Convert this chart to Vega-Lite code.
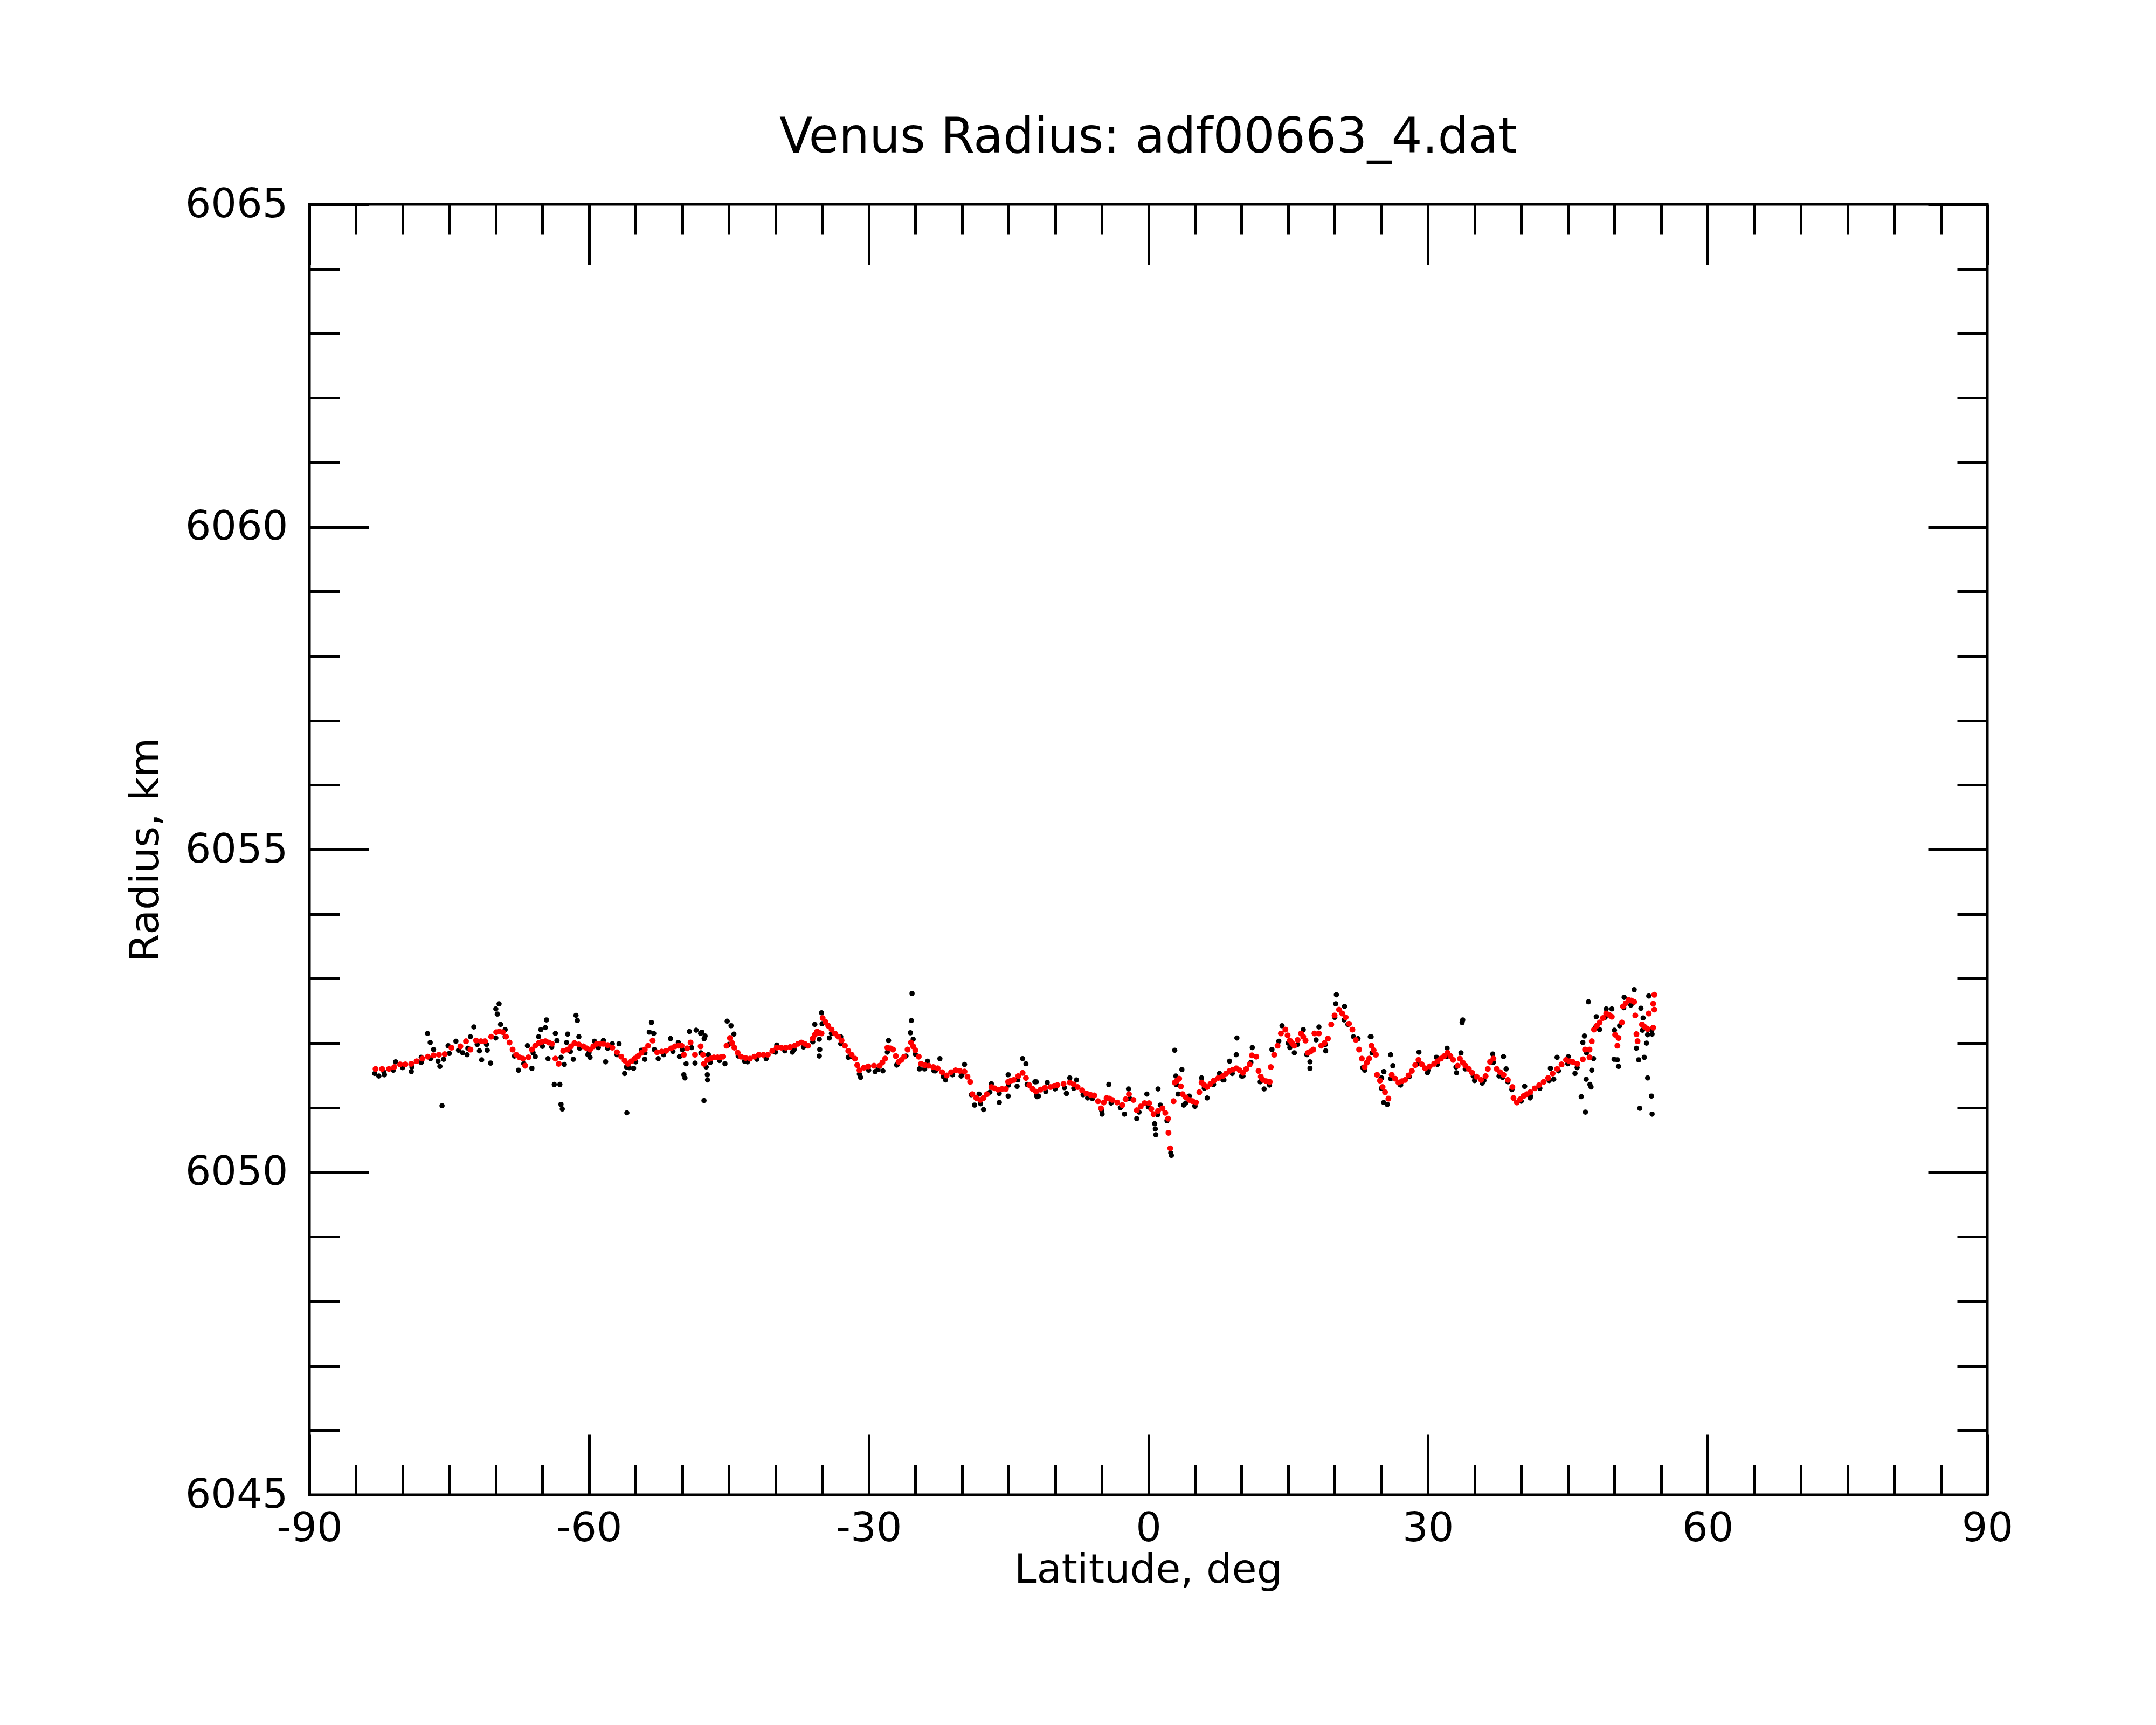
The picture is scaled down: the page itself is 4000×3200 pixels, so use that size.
{
  "$schema": "https://vega.github.io/schema/vega-lite/v6.json",
  "width": 3113,
  "height": 2394,
  "autosize": {"type": "none"},
  "padding": {"left": 574, "top": 379, "right": 313, "bottom": 427},
  "background": "white",
  "config": {
    "view": {"stroke": "black", "strokeWidth": 5},
    "font": "DejaVu Sans",
    "axis": {"domain": false, "grid": false, "tickColor": "black", "tickWidth": 5, "tickCap": "butt", "labelColor": "black", "titleColor": "black", "labelFont": "DejaVu Sans", "labelFontSize": 75, "labelLimit": 2000, "titleFont": "DejaVu Sans", "titleFontSize": 75, "titleFontWeight": "normal", "titleLimit": 3000, "labelFlush": false, "labelOverlap": false, "labelBound": false}
  },
  "title": {"text": "Venus Radius: adf00663_4.dat", "fontSize": 90, "font": "DejaVu Sans", "fontWeight": "normal", "color": "black", "anchor": "middle", "baseline": "alphabetic", "offset": -31},
  "datasets": {
    "smooth": [
      {"a":-82.9,"r":6051.60},{"a":-82.2,"r":6051.60},{"a":-81.47,"r":6051.60},{"a":-80.9,"r":6051.63},{"a":-80.27,"r":6051.67},{"a":-79.7,"r":6051.67},{"a":-79.07,"r":6051.68},{"a":-78.5,"r":6051.72},{"a":-77.88,"r":6051.76},{"a":-77.3,"r":6051.79},{"a":-76.68,"r":6051.81},{"a":-76.1,"r":6051.82},{"a":-75.48,"r":6051.83},{"a":-74.76,"r":6051.93},{"a":-73.8,"r":6051.95},{"a":-73.2,"r":6052.03},{"a":-72.72,"r":6051.90},{"a":-72.12,"r":6052.04},{"a":-71.6,"r":6052.03},{"a":-71.16,"r":6052.03},{"a":-70.5,"r":6052.10},{"a":-69.96,"r":6052.17},{"a":-69.6,"r":6052.18},{"a":-69.25,"r":6052.17},{"a":-68.9,"r":6052.10},{"a":-68.53,"r":6052.01},{"a":-68.2,"r":6051.90},{"a":-67.81,"r":6051.82},{"a":-67.45,"r":6051.78},{"a":-67.09,"r":6051.76},{"a":-66.85,"r":6051.65},{"a":-66.5,"r":6051.78},{"a":-66.13,"r":6051.90},{"a":-65.77,"r":6051.96},{"a":-65.41,"r":6052.00},{"a":-65.05,"r":6052.02},{"a":-64.69,"r":6052.03},{"a":-64.33,"r":6052.01},{"a":-63.97,"r":6051.99},{"a":-63.61,"r":6051.76},{"a":-63.25,"r":6051.68},{"a":-62.77,"r":6051.88},{"a":-62.29,"r":6051.90},{"a":-61.93,"r":6051.95},{"a":-61.57,"r":6052.00},{"a":-61.1,"r":6051.98},{"a":-60.61,"r":6051.95},{"a":-60.25,"r":6051.92},{"a":-59.89,"r":6051.90},{"a":-59.54,"r":6051.95},{"a":-59.18,"r":6051.99},{"a":-58.82,"r":6051.99},{"a":-58.46,"r":6051.99},{"a":-58.0,"r":6051.97},{"a":-57.5,"r":6051.93},{"a":-57.0,"r":6051.86},{"a":-56.54,"r":6051.79},{"a":-56.18,"r":6051.73},{"a":-55.82,"r":6051.68},{"a":-55.46,"r":6051.72},{"a":-55.1,"r":6051.76},{"a":-54.74,"r":6051.80},{"a":-54.38,"r":6051.85},{"a":-54.02,"r":6051.90},{"a":-53.66,"r":6051.96},{"a":-53.18,"r":6052.04},{"a":-52.7,"r":6051.86},{"a":-52.2,"r":6051.87},{"a":-51.74,"r":6051.88},{"a":-51.2,"r":6051.92},{"a":-50.78,"r":6051.95},{"a":-50.42,"r":6051.96},{"a":-50.07,"r":6051.96},{"a":-49.83,"r":6051.82},{"a":-49.47,"r":6051.92},{"a":-49.11,"r":6052.01},{"a":-48.63,"r":6051.82},{"a":-48.03,"r":6051.95},{"a":-47.77,"r":6051.82},{"a":-47.67,"r":6051.68},{"a":-47.3,"r":6051.74},{"a":-46.95,"r":6051.76},{"a":-46.6,"r":6051.78},{"a":-46.2,"r":6051.78},{"a":-45.9,"r":6051.78},{"a":-45.61,"r":6051.79},{"a":-45.25,"r":6051.96},{"a":-44.89,"r":6052.08},{"a":-44.65,"r":6052.00},{"a":-44.41,"r":6051.93},{"a":-44.05,"r":6051.85},{"a":-43.69,"r":6051.79},{"a":-43.2,"r":6051.77},{"a":-42.74,"r":6051.76},{"a":-42.26,"r":6051.79},{"a":-41.78,"r":6051.82},{"a":-41.3,"r":6051.82},{"a":-40.82,"r":6051.82},{"a":-40.34,"r":6051.88},{"a":-39.86,"r":6051.93},{"a":-39.38,"r":6051.93},{"a":-38.9,"r":6051.93},{"a":-38.42,"r":6051.94},{"a":-37.94,"r":6051.96},{"a":-37.58,"r":6051.99},{"a":-37.22,"r":6052.01},{"a":-36.86,"r":6051.99},{"a":-36.5,"r":6051.96},{"a":-36.02,"r":6052.07},{"a":-35.78,"r":6052.13},{"a":-35.54,"r":6052.18},{"a":-35.3,"r":6052.16},{"a":-35.06,"r":6052.15},{"a":-34.94,"r":6052.39},{"a":-34.64,"r":6052.33},{"a":-34.34,"r":6052.27},{"a":-33.98,"r":6052.21},{"a":-33.62,"r":6052.15},{"a":-33.26,"r":6052.10},{"a":-32.91,"r":6052.04},{"a":-32.55,"r":6051.96},{"a":-32.19,"r":6051.88},{"a":-31.83,"r":6051.82},{"a":-31.47,"r":6051.76},{"a":-31.23,"r":6051.66},{"a":-30.99,"r":6051.58},{"a":-30.51,"r":6051.62},{"a":-30.03,"r":6051.64},{"a":-29.43,"r":6051.65},{"a":-28.83,"r":6051.65},{"a":-28.53,"r":6051.70},{"a":-28.23,"r":6051.76},{"a":-27.99,"r":6051.93},{"a":-27.69,"r":6051.92},{"a":-27.39,"r":6051.90},{"a":-27.09,"r":6051.80},{"a":-26.79,"r":6051.71},{"a":-26.49,"r":6051.74},{"a":-26.19,"r":6051.79},{"a":-25.83,"r":6051.90},{"a":-25.47,"r":6052.01},{"a":-25.23,"r":6051.95},{"a":-24.99,"r":6051.89},{"a":-24.63,"r":6051.79},{"a":-24.39,"r":6051.68},{"a":-23.98,"r":6051.66},{"a":-23.56,"r":6051.65},{"a":-23.08,"r":6051.63},{"a":-22.6,"r":6051.61},{"a":-22.12,"r":6051.55},{"a":-21.64,"r":6051.50},{"a":-21.16,"r":6051.55},{"a":-20.68,"r":6051.58},{"a":-20.2,"r":6051.57},{"a":-19.72,"r":6051.56},{"a":-19.4,"r":6051.48},{"a":-19.12,"r":6051.40},{"a":-18.88,"r":6051.21},{"a":-18.46,"r":6051.15},{"a":-18.04,"r":6051.12},{"a":-17.68,"r":6051.15},{"a":-17.32,"r":6051.21},{"a":-16.84,"r":6051.32},{"a":-16.48,"r":6051.30},{"a":-16.12,"r":6051.28},{"a":-15.7,"r":6051.29},{"a":-15.28,"r":6051.29},{"a":-15.04,"r":6051.40},{"a":-14.74,"r":6051.42},{"a":-14.44,"r":6051.43},{"a":-13.96,"r":6051.49},{"a":-13.49,"r":6051.54},{"a":-13.13,"r":6051.46},{"a":-12.77,"r":6051.35},{"a":-12.41,"r":6051.29},{"a":-12.05,"r":6051.25},{"a":-11.57,"r":6051.28},{"a":-11.09,"r":6051.31},{"a":-10.49,"r":6051.32},{"a":-10.1,"r":6051.34},{"a":-9.75,"r":6051.35},{"a":-9.1,"r":6051.37},{"a":-8.43,"r":6051.39},{"a":-8.0,"r":6051.36},{"a":-7.59,"r":6051.32},{"a":-7.1,"r":6051.27},{"a":-6.64,"r":6051.22},{"a":-6.2,"r":6051.20},{"a":-5.8,"r":6051.19},{"a":-5.4,"r":6051.10},{"a":-5.08,"r":6050.99},{"a":-4.78,"r":6051.08},{"a":-4.48,"r":6051.15},{"a":-4.18,"r":6051.14},{"a":-3.88,"r":6051.12},{"a":-3.34,"r":6051.08},{"a":-2.8,"r":6051.04},{"a":-2.44,"r":6051.13},{"a":-2.08,"r":6051.21},{"a":-1.6,"r":6051.12},{"a":-1.24,"r":6050.96},{"a":-0.82,"r":6051.02},{"a":-0.4,"r":6051.07},{"a":0.08,"r":6051.07},{"a":0.32,"r":6050.98},{"a":0.56,"r":6050.90},{"a":1.04,"r":6050.95},{"a":1.52,"r":6050.99},{"a":1.82,"r":6050.92},{"a":2.12,"r":6050.83},{"a":2.16,"r":6050.61},{"a":2.35,"r":6050.37},{"a":2.71,"r":6051.10},{"a":2.83,"r":6051.39},{"a":3.07,"r":6051.42},{"a":3.31,"r":6051.45},{"a":3.49,"r":6051.33},{"a":3.67,"r":6051.21},{"a":4.03,"r":6051.16},{"a":4.39,"r":6051.12},{"a":4.75,"r":6051.10},{"a":5.11,"r":6051.08},{"a":5.47,"r":6051.24},{"a":5.71,"r":6051.39},{"a":6.0,"r":6051.35},{"a":6.31,"r":6051.32},{"a":6.67,"r":6051.37},{"a":7.03,"r":6051.42},{"a":7.5,"r":6051.46},{"a":7.99,"r":6051.49},{"a":8.35,"r":6051.53},{"a":8.71,"r":6051.57},{"a":9.07,"r":6051.59},{"a":9.43,"r":6051.61},{"a":9.8,"r":6051.58},{"a":10.15,"r":6051.54},{"a":10.5,"r":6051.60},{"a":10.87,"r":6051.67},{"a":11.11,"r":6051.81},{"a":11.58,"r":6051.79},{"a":11.82,"r":6051.57},{"a":12.06,"r":6051.48},{"a":12.3,"r":6051.43},{"a":12.66,"r":6051.41},{"a":13.02,"r":6051.40},{"a":13.14,"r":6051.63},{"a":13.5,"r":6051.82},{"a":13.86,"r":6051.96},{"a":14.22,"r":6052.15},{"a":14.7,"r":6052.21},{"a":14.94,"r":6052.12},{"a":15.18,"r":6052.04},{"a":15.42,"r":6052.00},{"a":15.66,"r":6051.96},{"a":16.02,"r":6052.05},{"a":16.38,"r":6052.15},{"a":16.62,"r":6052.10},{"a":16.86,"r":6052.04},{"a":17.1,"r":6051.85},{"a":17.4,"r":6051.87},{"a":17.7,"r":6051.90},{"a":17.82,"r":6052.15},{"a":18.3,"r":6052.15},{"a":18.54,"r":6051.96},{"a":18.9,"r":6052.00},{"a":19.26,"r":6052.07},{"a":19.62,"r":6052.29},{"a":19.98,"r":6052.43},{"a":20.46,"r":6052.52},{"a":20.8,"r":6052.46},{"a":21.17,"r":6052.40},{"a":21.53,"r":6052.30},{"a":21.89,"r":6052.21},{"a":22.25,"r":6052.05},{"a":22.61,"r":6051.90},{"a":22.9,"r":6051.76},{"a":23.21,"r":6051.63},{"a":23.45,"r":6051.70},{"a":23.69,"r":6051.76},{"a":23.93,"r":6051.96},{"a":24.17,"r":6051.89},{"a":24.41,"r":6051.82},{"a":24.53,"r":6051.51},{"a":24.85,"r":6051.42},{"a":25.13,"r":6051.32},{"a":25.39,"r":6051.24},{"a":25.75,"r":6051.14},{"a":26.11,"r":6051.51},{"a":26.47,"r":6051.45},{"a":26.83,"r":6051.39},{"a":27.19,"r":6051.41},{"a":27.55,"r":6051.43},{"a":27.91,"r":6051.50},{"a":28.27,"r":6051.57},{"a":28.63,"r":6051.66},{"a":28.98,"r":6051.74},{"a":29.34,"r":6051.67},{"a":29.7,"r":6051.61},{"a":30.18,"r":6051.64},{"a":30.66,"r":6051.68},{"a":31.02,"r":6051.72},{"a":31.38,"r":6051.76},{"a":31.74,"r":6051.80},{"a":32.1,"r":6051.85},{"a":32.4,"r":6051.80},{"a":32.7,"r":6051.74},{"a":33.18,"r":6051.65},{"a":33.42,"r":6051.76},{"a":33.72,"r":6051.70},{"a":34.02,"r":6051.65},{"a":34.38,"r":6051.60},{"a":34.74,"r":6051.54},{"a":35.22,"r":6051.48},{"a":35.7,"r":6051.43},{"a":36.18,"r":6051.49},{"a":36.42,"r":6051.60},{"a":36.66,"r":6051.71},{"a":37.02,"r":6051.76},{"a":37.38,"r":6051.60},{"a":37.74,"r":6051.55},{"a":38.1,"r":6051.51},{"a":38.57,"r":6051.43},{"a":39.05,"r":6051.32},{"a":39.17,"r":6051.15},{"a":39.53,"r":6051.08},{"a":39.89,"r":6051.13},{"a":40.25,"r":6051.18},{"a":40.61,"r":6051.21},{"a":40.97,"r":6051.24},{"a":41.45,"r":6051.30},{"a":41.93,"r":6051.35},{"a":42.41,"r":6051.40},{"a":42.89,"r":6051.46},{"a":43.37,"r":6051.53},{"a":43.85,"r":6051.60},{"a":44.33,"r":6051.67},{"a":44.81,"r":6051.74},{"a":45.17,"r":6051.72},{"a":45.53,"r":6051.71},{"a":46.01,"r":6051.68},{"a":46.61,"r":6051.75},{"a":46.85,"r":6051.90},{"a":47.33,"r":6051.90},{"a":47.33,"r":6051.78},{"a":47.57,"r":6052.03},{"a":47.81,"r":6052.21},{"a":48.11,"r":6052.27},{"a":48.41,"r":6052.32},{"a":48.77,"r":6052.39},{"a":49.12,"r":6052.46},{"a":49.42,"r":6052.44},{"a":49.72,"r":6052.41},{"a":50.08,"r":6052.13},{"a":50.44,"r":6052.08},{"a":50.32,"r":6051.96},{"a":50.8,"r":6052.32},{"a":50.92,"r":6052.57},{"a":51.22,"r":6052.62},{"a":51.52,"r":6052.67},{"a":51.82,"r":6052.66},{"a":52.12,"r":6052.64},{"a":52.24,"r":6052.43},{"a":52.36,"r":6052.14},{"a":52.48,"r":6052.03},{"a":52.96,"r":6052.29},{"a":53.26,"r":6052.25},{"a":53.56,"r":6052.22},{"a":54.16,"r":6052.24},{"a":53.68,"r":6052.46},{"a":54.28,"r":6052.52},{"a":54.16,"r":6052.61},{"a":54.28,"r":6052.75}
    ],
    "raw": [
      {"a":-83.0,"r":6051.53},{"a":-82.55,"r":6051.49},{"a":-82.0,"r":6051.55},{"a":-81.95,"r":6051.51},{"a":-81.0,"r":6051.58},{"a":-80.75,"r":6051.71},{"a":-80.0,"r":6051.62},{"a":-79.07,"r":6051.56},{"a":-79.0,"r":6051.63},{"a":-78.0,"r":6051.70},{"a":-78.0,"r":6051.78},{"a":-77.33,"r":6052.15},{"a":-77.04,"r":6052.01},{"a":-77.0,"r":6051.76},{"a":-76.68,"r":6051.90},{"a":-76.2,"r":6051.72},{"a":-76.0,"r":6051.64},{"a":-75.77,"r":6051.03},{"a":-75.6,"r":6051.75},{"a":-75.12,"r":6051.96},{"a":-75.0,"r":6051.84},{"a":-74.28,"r":6052.03},{"a":-74.0,"r":6051.89},{"a":-73.56,"r":6051.85},{"a":-73.08,"r":6051.82},{"a":-73.0,"r":6051.92},{"a":-72.72,"r":6052.10},{"a":-72.36,"r":6052.25},{"a":-72.0,"r":6051.98},{"a":-71.76,"r":6051.88},{"a":-71.52,"r":6051.74},{"a":-71.0,"r":6051.98},{"a":-70.92,"r":6051.89},{"a":-70.56,"r":6051.69},{"a":-70.0,"r":6052.53},{"a":-70.0,"r":6052.08},{"a":-69.84,"r":6052.45},{"a":-69.65,"r":6052.61},{"a":-69.49,"r":6052.29},{"a":-69.0,"r":6052.21},{"a":-69.0,"r":6052.10},{"a":-68.0,"r":6051.80},{"a":-67.57,"r":6051.58},{"a":-67.0,"r":6051.68},{"a":-66.61,"r":6051.96},{"a":-66.13,"r":6051.61},{"a":-66.0,"r":6051.85},{"a":-65.77,"r":6051.79},{"a":-65.41,"r":6052.10},{"a":-65.17,"r":6052.21},{"a":-65.0,"r":6051.95},{"a":-64.69,"r":6052.24},{"a":-64.57,"r":6052.36},{"a":-64.4,"r":6051.76},{"a":-64.0,"r":6051.94},{"a":-63.73,"r":6051.36},{"a":-63.61,"r":6052.15},{"a":-63.44,"r":6052.04},{"a":-63.13,"r":6051.36},{"a":-63.01,"r":6051.05},{"a":-63.0,"r":6051.78},{"a":-62.87,"r":6050.98},{"a":-62.65,"r":6051.67},{"a":-62.41,"r":6052.01},{"a":-62.29,"r":6052.14},{"a":-62.0,"r":6051.87},{"a":-61.69,"r":6051.75},{"a":-61.4,"r":6052.43},{"a":-61.26,"r":6052.35},{"a":-61.09,"r":6052.10},{"a":-61.0,"r":6051.92},{"a":-60.13,"r":6051.82},{"a":-60.0,"r":6051.85},{"a":-59.89,"r":6051.78},{"a":-59.42,"r":6052.03},{"a":-59.0,"r":6051.93},{"a":-58.46,"r":6052.04},{"a":-58.22,"r":6051.71},{"a":-58.0,"r":6051.92},{"a":-57.5,"r":6051.99},{"a":-57.0,"r":6051.82},{"a":-56.78,"r":6051.99},{"a":-56.18,"r":6051.53},{"a":-56.0,"r":6051.63},{"a":-55.94,"r":6050.92},{"a":-55.7,"r":6051.62},{"a":-55.22,"r":6051.61},{"a":-55.0,"r":6051.71},{"a":-54.38,"r":6051.89},{"a":-54.02,"r":6051.75},{"a":-54.0,"r":6051.85},{"a":-53.54,"r":6052.17},{"a":-53.3,"r":6052.32},{"a":-53.06,"r":6052.15},{"a":-53.0,"r":6051.90},{"a":-52.58,"r":6051.76},{"a":-52.0,"r":6051.82},{"a":-51.26,"r":6052.07},{"a":-51.0,"r":6051.87},{"a":-50.42,"r":6052.01},{"a":-50.3,"r":6051.79},{"a":-50.0,"r":6051.90},{"a":-49.83,"r":6051.51},{"a":-49.71,"r":6051.46},{"a":-49.59,"r":6051.68},{"a":-49.23,"r":6052.18},{"a":-49.0,"r":6051.93},{"a":-48.63,"r":6051.69},{"a":-48.51,"r":6052.20},{"a":-48.03,"r":6052.15},{"a":-48.0,"r":6051.85},{"a":-47.89,"r":6052.17},{"a":-47.67,"r":6051.11},{"a":-47.65,"r":6052.07},{"a":-47.55,"r":6052.11},{"a":-47.43,"r":6051.63},{"a":-47.31,"r":6051.51},{"a":-47.29,"r":6051.43},{"a":-47.19,"r":6051.82},{"a":-47.0,"r":6051.70},{"a":-46.0,"r":6051.73},{"a":-45.42,"r":6051.68},{"a":-45.18,"r":6052.34},{"a":-45.0,"r":6051.98},{"a":-44.77,"r":6052.27},{"a":-44.46,"r":6052.14},{"a":-44.0,"r":6051.80},{"a":-43.33,"r":6051.72},{"a":-43.0,"r":6051.71},{"a":-42.0,"r":6051.75},{"a":-41.0,"r":6051.76},{"a":-40.0,"r":6051.86},{"a":-39.86,"r":6051.97},{"a":-39.0,"r":6051.88},{"a":-38.18,"r":6051.86},{"a":-38.0,"r":6051.90},{"a":-37.0,"r":6051.94},{"a":-36.0,"r":6052.02},{"a":-35.78,"r":6052.29},{"a":-35.3,"r":6052.06},{"a":-35.25,"r":6051.90},{"a":-35.3,"r":6051.80},{"a":-35.06,"r":6052.47},{"a":-35.0,"r":6052.30},{"a":-34.22,"r":6052.08},{"a":-34.0,"r":6052.15},{"a":-33.0,"r":6052.10},{"a":-33.0,"r":6051.99},{"a":-32.19,"r":6051.78},{"a":-32.0,"r":6051.79},{"a":-31.0,"r":6051.52},{"a":-30.87,"r":6051.47},{"a":-30.0,"r":6051.58},{"a":-29.31,"r":6051.56},{"a":-29.0,"r":6051.59},{"a":-28.47,"r":6051.57},{"a":-28.0,"r":6051.86},{"a":-27.87,"r":6052.04},{"a":-27.0,"r":6051.66},{"a":-26.91,"r":6051.67},{"a":-26.0,"r":6051.80},{"a":-25.52,"r":6052.16},{"a":-25.42,"r":6052.35},{"a":-25.35,"r":6052.77},{"a":-25.23,"r":6052.06},{"a":-25.0,"r":6051.83},{"a":-24.56,"r":6051.60},{"a":-24.0,"r":6051.60},{"a":-23.68,"r":6051.72},{"a":-23.0,"r":6051.57},{"a":-22.84,"r":6051.57},{"a":-22.36,"r":6051.76},{"a":-22.0,"r":6051.48},{"a":-21.76,"r":6051.43},{"a":-21.0,"r":6051.51},{"a":-20.08,"r":6051.49},{"a":-20.0,"r":6051.51},{"a":-19.72,"r":6051.67},{"a":-19.0,"r":6051.20},{"a":-18.64,"r":6051.04},{"a":-18.16,"r":6051.21},{"a":-18.0,"r":6051.06},{"a":-17.68,"r":6050.97},{"a":-17.0,"r":6051.24},{"a":-16.84,"r":6051.37},{"a":-16.0,"r":6051.22},{"a":-15.99,"r":6051.08},{"a":-15.04,"r":6051.18},{"a":-15.04,"r":6051.51},{"a":-15.0,"r":6051.35},{"a":-14.08,"r":6051.33},{"a":-14.0,"r":6051.43},{"a":-13.49,"r":6051.76},{"a":-13.13,"r":6051.68},{"a":-13.0,"r":6051.36},{"a":-12.17,"r":6051.40},{"a":-12.03,"r":6051.40},{"a":-12.0,"r":6051.19},{"a":-11.93,"r":6051.17},{"a":-11.79,"r":6051.18},{"a":-11.0,"r":6051.25},{"a":-10.85,"r":6051.39},{"a":-10.0,"r":6051.29},{"a":-9.0,"r":6051.31},{"a":-8.79,"r":6051.22},{"a":-8.43,"r":6051.46},{"a":-8.0,"r":6051.30},{"a":-7.71,"r":6051.43},{"a":-7.0,"r":6051.20},{"a":-6.52,"r":6051.15},{"a":-6.0,"r":6051.14},{"a":-5.0,"r":6050.95},{"a":-4.96,"r":6050.90},{"a":-4.24,"r":6051.36},{"a":-4.0,"r":6051.07},{"a":-3.0,"r":6051.00},{"a":-2.56,"r":6050.90},{"a":-2.13,"r":6051.29},{"a":-2.0,"r":6051.14},{"a":-1.24,"r":6050.83},{"a":-1.0,"r":6050.93},{"a":-0.16,"r":6051.21},{"a":0.0,"r":6051.01},{"a":0.68,"r":6050.75},{"a":0.75,"r":6050.67},{"a":0.8,"r":6050.58},{"a":1.0,"r":6050.89},{"a":1.04,"r":6051.29},{"a":1.28,"r":6051.04},{"a":2.0,"r":6050.80},{"a":2.4,"r":6050.30},{"a":2.47,"r":6050.26},{"a":2.83,"r":6051.89},{"a":2.95,"r":6051.49},{"a":3.0,"r":6051.36},{"a":3.19,"r":6051.21},{"a":3.6,"r":6051.59},{"a":3.79,"r":6051.04},{"a":4.0,"r":6051.07},{"a":4.39,"r":6051.18},{"a":4.99,"r":6051.03},{"a":5.0,"r":6051.02},{"a":5.71,"r":6051.46},{"a":6.0,"r":6051.30},{"a":6.31,"r":6051.15},{"a":7.0,"r":6051.36},{"a":7.63,"r":6051.53},{"a":8.0,"r":6051.43},{"a":8.11,"r":6051.43},{"a":8.71,"r":6051.72},{"a":9.0,"r":6051.53},{"a":9.43,"r":6051.82},{"a":9.5,"r":6052.08},{"a":10.0,"r":6051.49},{"a":10.15,"r":6051.49},{"a":11.0,"r":6051.70},{"a":11.15,"r":6051.93},{"a":12.0,"r":6051.40},{"a":12.42,"r":6051.29},{"a":13.0,"r":6051.35},{"a":13.26,"r":6051.90},{"a":14.0,"r":6052.03},{"a":14.34,"r":6052.27},{"a":15.0,"r":6052.00},{"a":15.18,"r":6051.93},{"a":15.66,"r":6051.85},{"a":16.0,"r":6051.98},{"a":16.62,"r":6052.21},{"a":17.0,"r":6051.82},{"a":17.34,"r":6051.71},{"a":17.34,"r":6051.61},{"a":18.0,"r":6052.05},{"a":18.3,"r":6052.25},{"a":19.0,"r":6051.98},{"a":19.02,"r":6051.88},{"a":20.0,"r":6052.40},{"a":20.1,"r":6052.61},{"a":20.17,"r":6052.75},{"a":21.0,"r":6052.36},{"a":21.05,"r":6052.57},{"a":21.41,"r":6052.29},{"a":22.0,"r":6052.10},{"a":22.49,"r":6052.07},{"a":23.0,"r":6051.62},{"a":23.21,"r":6051.58},{"a":23.81,"r":6052.10},{"a":23.9,"r":6052.10},{"a":24.0,"r":6051.85},{"a":25.0,"r":6051.30},{"a":25.03,"r":6051.46},{"a":25.25,"r":6051.56},{"a":25.25,"r":6051.08},{"a":25.27,"r":6051.56},{"a":25.63,"r":6051.05},{"a":25.99,"r":6051.82},{"a":26.0,"r":6051.45},{"a":26.23,"r":6051.65},{"a":27.0,"r":6051.36},{"a":27.07,"r":6051.35},{"a":28.0,"r":6051.48},{"a":29.0,"r":6051.68},{"a":29.03,"r":6051.86},{"a":29.94,"r":6051.54},{"a":30.0,"r":6051.58},{"a":30.9,"r":6051.78},{"a":31.0,"r":6051.67},{"a":32.0,"r":6051.79},{"a":32.05,"r":6051.92},{"a":33.0,"r":6051.63},{"a":33.06,"r":6051.54},{"a":33.54,"r":6051.85},{"a":33.66,"r":6052.32},{"a":33.73,"r":6052.36},{"a":34.0,"r":6051.60},{"a":34.86,"r":6051.49},{"a":35.0,"r":6051.42},{"a":35.82,"r":6051.38},{"a":36.0,"r":6051.42},{"a":36.94,"r":6051.83},{"a":37.0,"r":6051.70},{"a":37.62,"r":6051.49},{"a":38.0,"r":6051.47},{"a":38.1,"r":6051.79},{"a":38.38,"r":6051.60},{"a":38.57,"r":6051.40},{"a":39.0,"r":6051.28},{"a":40.0,"r":6051.10},{"a":40.37,"r":6051.33},{"a":40.97,"r":6051.15},{"a":41.0,"r":6051.18},{"a":42.0,"r":6051.30},{"a":43.0,"r":6051.42},{"a":43.13,"r":6051.61},{"a":43.49,"r":6051.44},{"a":43.85,"r":6051.78},{"a":44.0,"r":6051.57},{"a":45.0,"r":6051.68},{"a":45.05,"r":6051.79},{"a":45.77,"r":6051.53},{"a":46.0,"r":6051.62},{"a":46.44,"r":6051.17},{"a":46.61,"r":6052.01},{"a":46.78,"r":6052.11},{"a":46.89,"r":6050.93},{"a":46.97,"r":6051.44},{"a":47.0,"r":6051.85},{"a":47.21,"r":6052.64},{"a":47.37,"r":6051.36},{"a":47.49,"r":6051.32},{"a":47.57,"r":6051.58},{"a":47.76,"r":6051.76},{"a":48.0,"r":6052.25},{"a":48.05,"r":6052.41},{"a":48.41,"r":6052.21},{"a":49.0,"r":6052.40},{"a":49.12,"r":6052.53},{"a":49.72,"r":6052.53},{"a":49.96,"r":6051.75},{"a":50.0,"r":6052.20},{"a":50.32,"r":6051.74},{"a":50.44,"r":6051.64},{"a":50.56,"r":6052.27},{"a":51.0,"r":6052.55},{"a":51.04,"r":6052.71},{"a":51.76,"r":6052.59},{"a":52.0,"r":6052.62},{"a":52.12,"r":6052.83},{"a":52.36,"r":6051.92},{"a":52.6,"r":6051.74},{"a":52.72,"r":6050.99},{"a":52.84,"r":6052.54},{"a":53.0,"r":6052.20},{"a":53.08,"r":6052.39},{"a":53.2,"r":6051.78},{"a":53.44,"r":6052.00},{"a":53.56,"r":6052.13},{"a":53.56,"r":6051.46},{"a":53.68,"r":6052.73},{"a":53.97,"r":6051.18},{"a":54.0,"r":6052.20},{"a":54.04,"r":6052.14},{"a":54.04,"r":6050.90}
    ]
  },
  "layer": [
    {
      "data": {"name": "raw"},
      "mark": {"type": "point", "shape": "circle", "filled": true, "color": "black", "size": 95, "opacity": 1},
      "encoding": {
        "x": {"field": "a", "type": "quantitative", "scale": {"domain": [-90, 90], "nice": false, "zero": false},
          "axis": {"orient": "bottom", "values": [-90, -60, -30, 0, 30, 60, 90], "tickSize": -112, "labelPadding": 138, "labelExpr": "'' + datum.value", "title": "Latitude, deg", "titleX": 1556, "titleY": 162, "titleAlign": "center", "titleBaseline": "alphabetic", "titleAngle": 0}},
        "y": {"field": "r", "type": "quantitative", "scale": {"domain": [6045, 6065], "nice": false, "zero": false},
          "axis": {"orient": "left", "values": [6045, 6050, 6055, 6060, 6065], "tickSize": -110, "labelPadding": 150, "labelExpr": "'' + datum.value", "labelBaseline": "middle", "title": "Radius, km", "titleX": -281, "titleY": 1197, "titleAngle": -90, "titleAlign": "center", "titleBaseline": "alphabetic"}}
      }
    },
    {
      "data": {"name": "smooth"},
      "mark": {"type": "point", "shape": "circle", "filled": true, "color": "#ff0000", "size": 120, "opacity": 1},
      "encoding": {
        "x": {"field": "a", "type": "quantitative", "scale": {"domain": [-90, 90], "nice": false, "zero": false},
          "axis": {"orient": "bottom", "values": [-85,-80,-75,-70,-65,-55,-50,-45,-40,-35,-25,-20,-15,-10,-5,5,10,15,20,25,35,40,45,50,55,65,70,75,80,85], "tickSize": -56, "labels": false, "title": null}},
        "y": {"field": "r", "type": "quantitative", "scale": {"domain": [6045, 6065], "nice": false, "zero": false},
          "axis": {"orient": "left", "values": [6046,6047,6048,6049,6051,6052,6053,6054,6056,6057,6058,6059,6061,6062,6063,6064], "tickSize": -56, "labels": false, "title": null}}
      }
    },
    {
      "data": {"name": "smooth"},
      "mark": {"type": "point", "opacity": 0},
      "encoding": {
        "x": {"field": "a", "type": "quantitative", "scale": {"domain": [-90, 90], "nice": false, "zero": false},
          "axis": {"orient": "top", "values": [-90, -60, -30, 0, 30, 60, 90], "tickSize": -112, "labels": false, "title": null}},
        "y": {"field": "r", "type": "quantitative", "scale": {"domain": [6045, 6065], "nice": false, "zero": false},
          "axis": {"orient": "right", "values": [6045, 6050, 6055, 6060, 6065], "tickSize": -110, "labels": false, "title": null}}
      }
    },
    {
      "data": {"name": "smooth"},
      "mark": {"type": "point", "opacity": 0},
      "encoding": {
        "x": {"field": "a", "type": "quantitative", "scale": {"domain": [-90, 90], "nice": false, "zero": false},
          "axis": {"orient": "top", "values": [-85,-80,-75,-70,-65,-55,-50,-45,-40,-35,-25,-20,-15,-10,-5,5,10,15,20,25,35,40,45,50,55,65,70,75,80,85], "tickSize": -56, "labels": false, "title": null}},
        "y": {"field": "r", "type": "quantitative", "scale": {"domain": [6045, 6065], "nice": false, "zero": false},
          "axis": {"orient": "right", "values": [6046,6047,6048,6049,6051,6052,6053,6054,6056,6057,6058,6059,6061,6062,6063,6064], "tickSize": -56, "labels": false, "title": null}}
      }
    }
  ],
  "resolve": {"axis": {"x": "independent", "y": "independent"}}
}
